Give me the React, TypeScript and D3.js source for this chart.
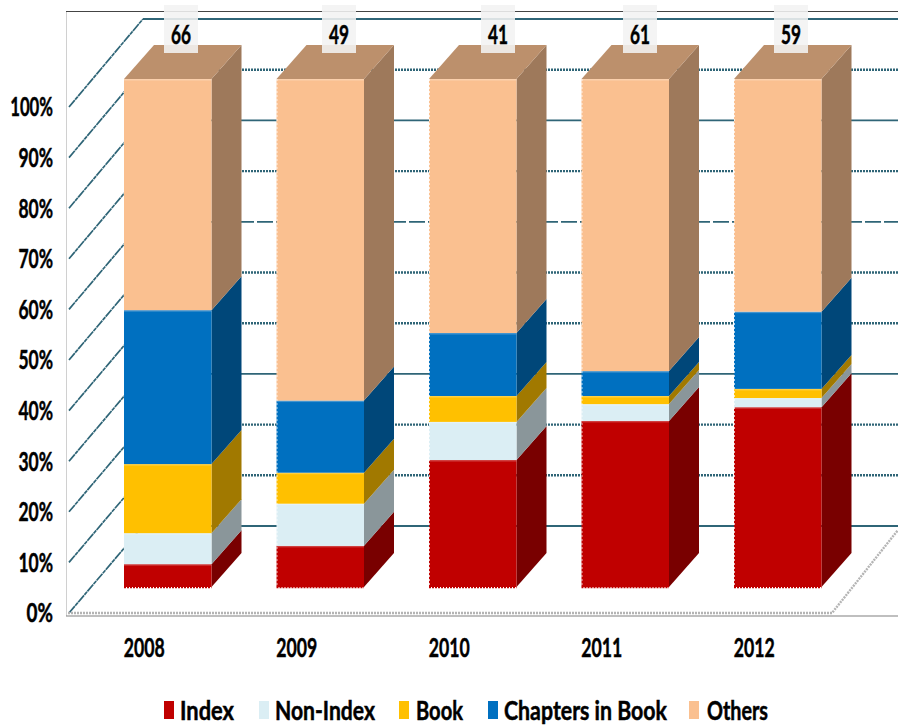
import * as d3 from "d3";

const years = ["2008", "2009", "2010", "2011", "2012"];
const counts = [66, 49, 41, 61, 59];
const seriesNames = ["Index", "Non-Index", "Book", "Chapters in Book", "Others"];
const colors = ["#c00000", "#dbeef4", "#ffc000", "#0070c0", "#fac090"];

const index = [4.5, 8.1, 25, 32.7, 35.4];
const nonIndex = [6.1, 8.3, 7.5, 3.3, 1.8];
const book = [13.6, 6.1, 5.1, 1.6, 1.8];
const chapters = [30.3, 14.2, 12.4, 4.9, 15.2];
const others = [45.5, 63.3, 50, 57.5, 45.8];
const ticks = [0, 0.1, 0.2, 0.3, 0.4, 0.5, 0.6, 0.7, 0.8, 0.9, 1];

const allSeries = [index, nonIndex, book, chapters, others];
const rows = years.map((year, i) => {
  const row: Record<string, number | string> = { year };
  seriesNames.forEach((name, s) => (row[name] = allSeries[s][i]));
  return row;
});

const font = "Lato, 'Liberation Sans', sans-serif";
const gridColor = "#2f6577";

// line look of each gridline on the back wall, same order as ticks
const wallStyle = ["solid", "dotted", "dotted", "solid", "dotted", "dotted", "dashed", "dotted", "solid", "dotted", "solid"];

const shade = (c: string, k: number) => {
  const rgb = d3.rgb(c);
  return d3.rgb(rgb.r * k, rgb.g * k, rgb.b * k).formatHex();
};

export default function App() {
  const stacked = d3
    .stack<Record<string, number | string>>()
    .keys(seriesNames)
    .offset(d3.stackOffsetExpand)(rows as any);

  const floorX = d3.scaleBand().domain(years).range([68, 830.5]);
  const barShift = 56;
  const barW = 87.5;
  const dx = 30;
  const dy = 34;

  const yBar = d3.scaleLinear().domain([0, 1]).range([587, 79]);
  const yAxis = d3.scaleLinear().domain([0, 1]).range([613, 107]);
  const yWall = d3.scaleLinear().domain([0, 1]).range([526, 19]);
  const wallX = 143;
  const fmt = d3.format(".0%");

  // the count boxes do not sit at one fixed place on the bars
  const countX = [181, 339, 498, 640, 791];
  const legendX = [164, 259, 399, 488, 689];
  const legendTextX = [180, 275, 416, 504, 707];
  const legendTextW = [54, 100, 47, 163, 61];

  return (
    <svg
      width={898}
      height={727}
      style={{ position: "absolute", left: 0, top: 0, background: "#fff" }}
      fontFamily={font}
      fontWeight="bold"
      stroke="none"
    >
      {/* plot frame */}
      <line x1={66.5} x2={66.5} y1={11} y2={616} stroke="#d0d0d0" />
      <line x1={66} x2={898} y1={11.5} y2={11.5} stroke="#444" />
      <line x1={66} x2={898} y1={616} y2={616} stroke="#808080" strokeWidth={1.2} />

      {/* walls */}
      {ticks.map((t, i) => {
        const style = wallStyle[i];
        const label = fmt(t);
        return (
          <g key={t} fill="none" stroke={gridColor}>
            <line
              x1={69}
              y1={yAxis(t)}
              x2={wallX}
              y2={yWall(t)}
              strokeWidth={1.7}
              strokeDasharray="9 0.6 4 0.6"
            />
            <line
              x1={wallX}
              x2={898}
              y1={yWall(t)}
              y2={yWall(t)}
              strokeWidth={style === "dotted" ? 2.4 : 1.8}
              strokeDasharray={style === "dotted" ? "2 1" : style === "dashed" ? "16 3" : undefined}
            />
            <text
              x={53}
              y={yAxis(t)}
              dy="0.35em"
              textAnchor="end"
              fontSize={27}
              fill="#000"
              stroke="#000"
              strokeWidth={0.5}
              textLength={label.length * 8.2 + 10}
              lengthAdjust="spacingAndGlyphs"
            >
              {label}
            </text>
          </g>
        );
      })}

      {/* floor */}
      <path
        d="M68,613H832L898,530"
        fill="none"
        stroke="#b4b4b4"
        strokeWidth={2.4}
        strokeDasharray="2 1"
      />

      {/* bars */}
      {years.map((year, i) => {
        const x0 = (floorX(year) ?? 0) + barShift;
        const x1 = x0 + barW;
        return (
          <g key={year}>
            {stacked.map((layer, s) => {
              const [a, b] = layer[i];
              const c = colors[s];
              return (
                <g key={layer.key}>
                  <polygon
                    points={`${x1},${yBar(a)} ${x1 + dx},${yBar(a) - dy} ${x1 + dx},${yBar(b) - dy} ${x1},${yBar(b)}`}
                    fill={shade(c, 0.63)}
                  />
                  <rect x={x0} y={yBar(b)} width={barW} height={yBar(a) - yBar(b)} fill={c} />
                  <rect x={x0} y={yBar(b)} width={barW} height={1.5} fill="#fff" fillOpacity={0.25} />
                </g>
              );
            })}
            <polygon
              points={`${x0},${yBar(1)} ${x0 + dx},${yBar(1) - dy} ${x1 + dx},${yBar(1) - dy} ${x1},${yBar(1)}`}
              fill={shade(colors[4], 0.75)}
            />
            {/* rough dotted edges of the bar */}
            <line
              x1={x0}
              x2={x1}
              y1={yBar(0) + 0.5}
              y2={yBar(0) + 0.5}
              stroke={colors[0]}
              strokeWidth={1.5}
              strokeDasharray="2 1"
            />
            {i > 0 && (
              <line
                x1={x0 + 0.5}
                x2={x0 + 0.5}
                y1={yBar(1)}
                y2={yBar(0)}
                stroke="#fff"
                strokeOpacity={0.7}
                strokeDasharray="2 2"
              />
            )}
            <text
              x={(floorX(year) ?? 0) + floorX.bandwidth() / 2}
              y={657}
              textAnchor="middle"
              fontSize={27}
              stroke="#000"
              strokeWidth={0.5}
              textLength={41}
              lengthAdjust="spacingAndGlyphs"
            >
              {year}
            </text>
          </g>
        );
      })}

      {/* count labels */}
      {years.map((year, i) => (
        <g key={year}>
          <rect x={countX[i] - 17} y={5} width={34} height={48} fill="#f2f2f2" fillOpacity={0.88} />
          <text
            x={countX[i]}
            y={44}
            textAnchor="middle"
            fontSize={27}
            stroke="#000"
            strokeWidth={0.5}
            textLength={20}
            lengthAdjust="spacingAndGlyphs"
          >
            {counts[i]}
          </text>
        </g>
      ))}

      {/* legend */}
      {seriesNames.map((name, s) => (
        <g key={name}>
          <rect x={legendX[s]} y={701} width={10} height={18} fill={colors[s]} />
          <text
            x={legendTextX[s]}
            y={720}
            fontSize={27}
            stroke="#000"
            strokeWidth={0.5}
            textLength={legendTextW[s]}
            lengthAdjust="spacingAndGlyphs"
          >
            {name}
          </text>
        </g>
      ))}
    </svg>
  );
}
